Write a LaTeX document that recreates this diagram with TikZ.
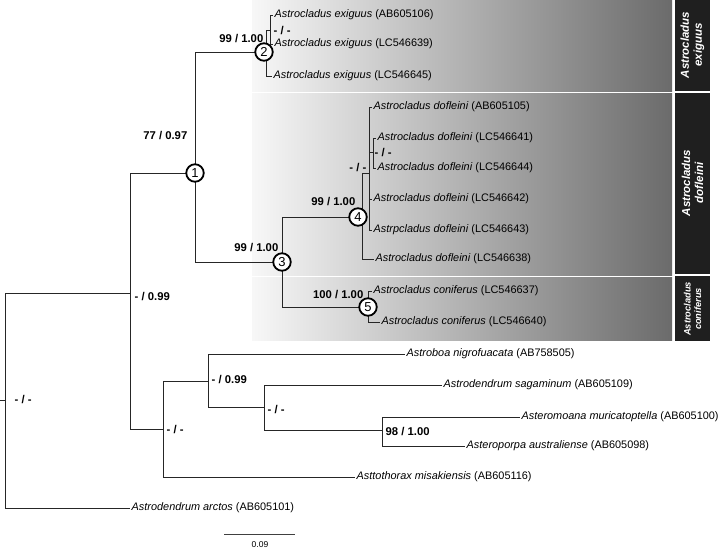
\documentclass[tikz,border=0pt]{standalone}
\usepackage{fontspec}
\setmainfont{Liberation Sans}
\begin{document}
\begin{tikzpicture}[x=1pt,y=-1pt,
    branch/.style={draw=black!85, line width=0.9pt},
    taxon/.style={anchor=west, inner sep=1.5pt, font=\fontsize{10.9}{12}\selectfont},
    support/.style={inner sep=0.5pt, font=\fontsize{11.3}{13}\selectfont\bfseries},
    nodenum/.style={circle, draw, line width=1.8pt, fill=white, inner sep=0pt, minimum size=17.5pt, font=\fontsize{13}{13}\selectfont},
    band/.style={left color=black!3, right color=black!58},
    clade/.style={text=white, rotate=90, align=center, inner sep=0pt, font=\fontsize{11.5}{13}\selectfont\bfseries\itshape}]
    \useasboundingbox (0,0) rectangle (720,549);

    % Shaded clade bands
    \shade[band] (252,0) rectangle (672,91);
    \shade[band] (252,93) rectangle (672,275);
    \shade[band] (252,277) rectangle (672,340);

    % Clade labels on the right
    \fill[black!88] (675,0) rectangle (710,91);
    \fill[black!88] (675,93) rectangle (710,274);
    \fill[black!88] (675,276) rectangle (710,341);
    \node[clade] (cex) at (692.5,45) {Astrocladus\\exiguus};
    \node[clade] (cdo) at (692.5,183) {Astrocladus\\dofleini};
    \node[clade, font=\fontsize{9.3}{10.5}\selectfont\bfseries\itshape] (cco) at (692.5,309) {Astrocladus\\coniferus};

    % Internal nodes
    \coordinate (root0) at (0,400);
    \coordinate (R) at (5,400);
    \coordinate (A) at (130,293);
    \coordinate (N1) at (195,173);
    \coordinate (N2) at (266,52);
    \coordinate (E1) at (270,30);
    \coordinate (N3) at (282,262);
    \coordinate (N4) at (362,217);
    \coordinate (D) at (369,173);
    \coordinate (E2) at (373,152);
    \coordinate (N5) at (368,307);
    \coordinate (B) at (163,429);
    \coordinate (C) at (208,381);
    \coordinate (G) at (264,407);
    \coordinate (H) at (382,430);

    % Taxa
    \node[taxon] (ex1) at (273,15) {\textit{Astrocladus exiguus} (AB605106)};
    \node[taxon] (ex2) at (273,44) {\textit{Astrocladus exiguus} (LC546639)};
    \node[taxon] (ex3) at (272,76) {\textit{Astrocladus exiguus} (LC546645)};
    \node[taxon] (do1) at (372,107) {\textit{Astrocladus dofleini} (AB605105)};
    \node[taxon] (do2) at (376,138) {\textit{Astrocladus dofleini} (LC546641)};
    \node[taxon] (do3) at (376,168) {\textit{Astrocladus dofleini} (LC546644)};
    \node[taxon] (do4) at (372,199) {\textit{Astrocladus dofleini} (LC546642)};
    \node[taxon] (do5) at (372,230) {\textit{Astrpcladus dofleini} (LC546643)};
    \node[taxon] (do6) at (374,259) {\textit{Astrocladus dofleini} (LC546638)};
    \node[taxon] (co1) at (372,291) {\textit{Astrocladus coniferus} (LC546637)};
    \node[taxon] (co2) at (380,322) {\textit{Astrocladus coniferus} (LC546640)};
    \node[taxon] (nig) at (405,354) {\textit{Astroboa nigrofuacata} (AB758505)};
    \node[taxon] (sag) at (442,385) {\textit{Astrodendrum sagaminum} (AB605109)};
    \node[taxon] (mur) at (520,417) {\textit{Asteromoana muricatoptella} (AB605100)};
    \node[taxon] (aus) at (465,446) {\textit{Asteroporpa australiense} (AB605098)};
    \node[taxon] (mis) at (355,477) {\textit{Asttothorax misakiensis} (AB605116)};
    \node[taxon] (arc) at (130,508) {\textit{Astrodendrum arctos} (AB605101)};

    % Branches
    \draw[branch] (root0) -- (R);
    \draw[branch] (R) |- (A);
    \draw[branch] (R) |- (arc.west);
    \draw[branch] (A) |- (N1);
    \draw[branch] (A) |- (B);
    \draw[branch] (N1) |- (N2);
    \draw[branch] (N1) |- (N3);
    \draw[branch] (N2) |- (E1);
    \draw[branch] (N2) |- (ex3.west);
    \draw[branch] (E1) |- (ex1.west);
    \draw[branch] (E1) |- (ex2.west);
    \draw[branch] (N3) |- (N4);
    \draw[branch] (N3) |- (N5);
    \draw[branch] (N4) |- (D);
    \draw[branch] (N4) |- (do6.west);
    \draw[branch] (D) |- (do1.west);
    \draw[branch] (D) |- (E2);
    \draw[branch] (D) |- (do4.west);
    \draw[branch] (D) |- (do5.west);
    \draw[branch] (E2) |- (do2.west);
    \draw[branch] (E2) |- (do3.west);
    \draw[branch] (N5) |- (co1.west);
    \draw[branch] (N5) |- (co2.west);
    \draw[branch] (B) |- (C);
    \draw[branch] (B) |- (mis.west);
    \draw[branch] (C) |- (nig.west);
    \draw[branch] (C) |- (G);
    \draw[branch] (G) |- (sag.west);
    \draw[branch] (G) |- (H);
    \draw[branch] (H) |- (mur.west);
    \draw[branch] (H) |- (aus.west);

    % Numbered nodes
    \node[nodenum] (c1) at (N1) {1};
    \node[nodenum, xshift=-2pt] (c2) at (N2) {2};
    \node[nodenum] (c3) at (N3) {3};
    \node[nodenum, xshift=-4pt] (c4) at (N4) {4};
    \node[nodenum] (c5) at (N5) {5};

    % Support values
    \node[support, anchor=west] (sR) at (14,400) {- / -};
    \node[support, anchor=west] (sA) at (134,297) {- / 0.99};
    \node[support, anchor=east] (s1) at (188,136) {77 / 0.97};
    \node[support, anchor=east] (s2) at (264,39) {99 / 1.00};
    \node[support, anchor=west] (sE1) at (273,31) {- / -};
    \node[support, anchor=east] (s3) at (279,248) {99 / 1.00};
    \node[support, anchor=east] (s4) at (356,202) {99 / 1.00};
    \node[support, anchor=east] (sD) at (367,168) {- / -};
    \node[support, anchor=west] (sE2) at (374,153) {- / -};
    \node[support, anchor=east] (s5) at (364,295) {100 / 1.00};
    \node[support, anchor=west] (sB) at (166,430) {- / -};
    \node[support, anchor=west] (sC) at (211,380) {- / 0.99};
    \node[support, anchor=west] (sG) at (267,410) {- / -};
    \node[support, anchor=west] (sH) at (385,432) {98 / 1.00};

    % Scale bar
    \coordinate (sc0) at (224,534);
    \coordinate (sc1) at (295,534);
    \draw[black!75, line width=0.8pt] (sc0) -- (sc1);
    \node[font=\fontsize{8.5}{9}\selectfont, inner sep=0pt] (sclab) at (260,545) {0.09};
\end{tikzpicture}
\end{document}
